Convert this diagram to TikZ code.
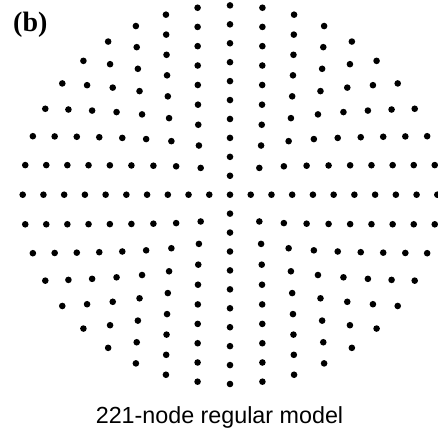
\documentclass[tikz,border=0pt]{standalone}
\usepackage{fontspec}
\setmainfont{Liberation Serif}
\newfontfamily\capfont{Liberation Sans}
\begin{document}
\begin{tikzpicture}[x=1pt,y=-1pt,
  dot/.style={circle,fill=black,draw=none,inner sep=0pt,minimum size=6.6pt},
  lab/.style={inner sep=0pt}]
\useasboundingbox (0,0) rectangle (438,431);
\node[dot] (c) at (230,194.7) {};
\foreach \k in {1,...,10}{
  \pgfmathtruncatemacro\nn{4*\k-1}
  \foreach \j in {0,...,\nn}{
    \node[dot] (n-\k-\j) at ({230+20.73*\k*cos(90*\j/\k)},{194.7-18.93*\k*sin(90*\j/\k)}) {};
  }
}
\node[lab,anchor=base west,font=\bfseries\fontsize{28}{30}\selectfont] (lbl) at (13,31.5) {(b)};
\node[lab,anchor=base,font=\capfont\fontsize{23.3}{26}\selectfont] (cap) at (219.5,423) {221-node regular model};
\end{tikzpicture}
\end{document}
